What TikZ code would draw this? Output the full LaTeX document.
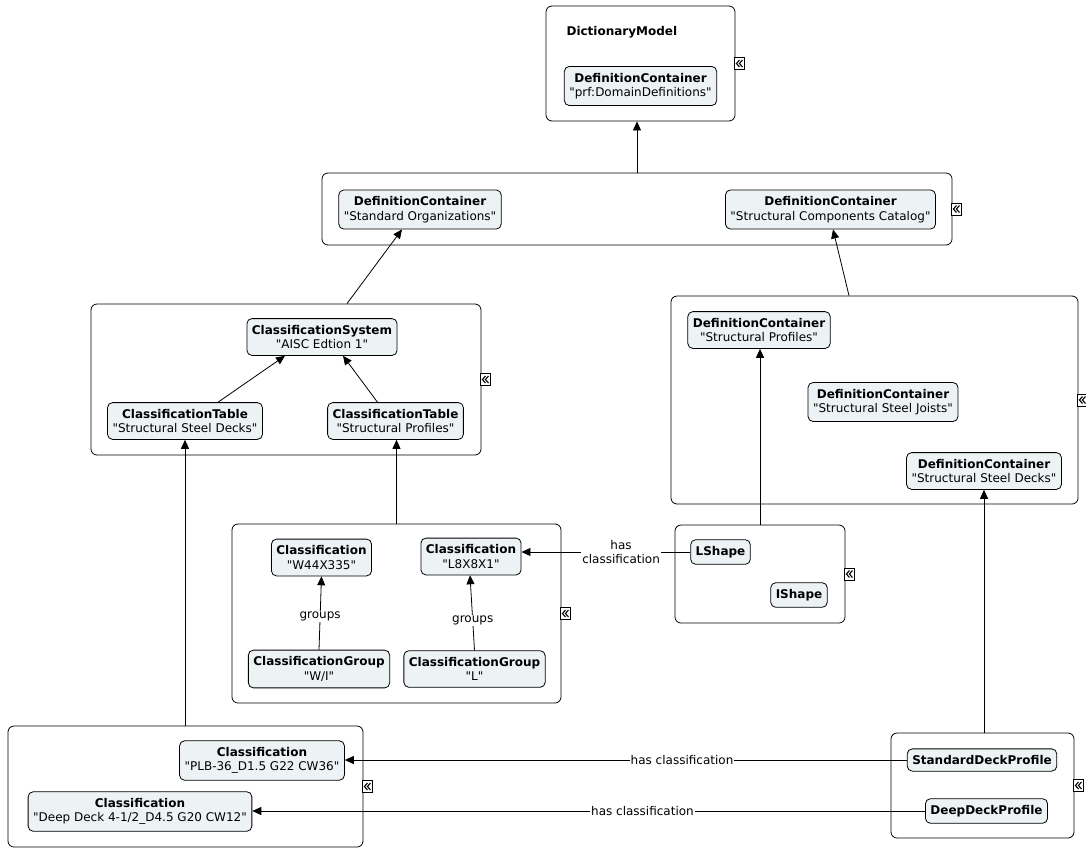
\documentclass[tikz,border=0pt]{standalone}
\usepackage{fontspec}
\setmainfont{DejaVu Sans}[Ligatures=TeXOff]
\usetikzlibrary{calc,arrows.meta}
\definecolor{boxfill}{RGB}{237,243,245}
\def\contnode{\node[cont]}
\def\itemnode{\node[item]}
\def\foldicon{\node[fold]}
\def\drawrel{\draw[rel]}
\def\q#1{"#1"}

\begin{document}
\begin{tikzpicture}[x=1pt,y=-1pt,font=\fontsize{12}{14.5}\selectfont,
  cont/.style={draw=black,rounded corners=6pt,line width=0.8pt,inner sep=0pt},
  item/.style={draw=black,fill=boxfill,rounded corners=5pt,line width=0.8pt,align=center,inner xsep=5pt,inner ysep=6.5pt},
  fold/.style={draw=black,fill=white,anchor=west,inner sep=0pt,minimum width=10pt,minimum height=12pt,line width=0.7pt,
    path picture={
      \draw[line width=1.1pt] ([shift={(-0.3pt,3.5pt)}]path picture bounding box.center) -- ++(-3pt,-3.5pt) -- ++(3pt,-3.5pt);
      \draw[line width=1.1pt] ([shift={(2.7pt,3.5pt)}]path picture bounding box.center) -- ++(-3pt,-3.5pt) -- ++(3pt,-3.5pt);
    }},
  rel/.style={-{Triangle[length=9pt,width=8pt]},line width=0.8pt},
  lbl/.style={fill=white,inner sep=1pt,align=center}]
\useasboundingbox (0,0) rectangle (1086,849);

% -------- containers ---------
\contnode[minimum width=189pt,minimum height=115pt] (dict) at (640.5,63.5) {};
\contnode[minimum width=630pt,minimum height=72pt] (defs) at (637,209) {};
\contnode[minimum width=390pt,minimum height=151pt] (aisc) at (286,379.5) {};
\contnode[minimum width=407pt,minimum height=208pt] (catalog) at (874.5,400) {};
\contnode[minimum width=329pt,minimum height=179pt] (classes) at (396.5,613.5) {};
\contnode[minimum width=170pt,minimum height=98pt] (shapes) at (760,574) {};
\contnode[minimum width=355pt,minimum height=121pt] (deckclasses) at (185.5,786.5) {};
\contnode[minimum width=183pt,minimum height=105pt] (decks) at (982.5,785.5) {};
\foreach \c in {dict,defs,aisc,catalog,classes,shapes,deckclasses,decks}
  \foldicon at ([xshift=-1pt]\c.east) {};
\node[anchor=west,font=\fontsize{12}{14.5}\selectfont\bfseries] (dictlabel) at (563,32) {DictionaryModel};

% -------- items ---------
\itemnode (domain) at (640.5,86) {\textbf{DefinitionContainer}\\\q{prf:DomainDefinitions}};
\itemnode (stdorg) at (420,209.5) {\textbf{DefinitionContainer}\\\q{Standard Organizations}};
\itemnode (compcat) at (830.5,209.5) {\textbf{DefinitionContainer}\\\q{Structural Components Catalog}};
\itemnode (system) at (322,337) {\textbf{ClassificationSystem}\\\q{AISC Edtion 1}};
\itemnode (tabdecks) at (185,421) {\textbf{ClassificationTable}\\\q{Structural Steel Decks}};
\itemnode (tabprof) at (395.5,421) {\textbf{ClassificationTable}\\\q{Structural Profiles}};
\itemnode (dcprof) at (759,330) {\textbf{DefinitionContainer}\\\q{Structural Profiles}};
\itemnode (dcjoists) at (883,402) {\textbf{DefinitionContainer}\\\q{Structural Steel Joists}};
\itemnode (dcdecks) at (984,471) {\textbf{DefinitionContainer}\\\q{Structural Steel Decks}};
\itemnode (classw) at (321.5,557.5) {\textbf{Classification}\\\q{W44X335}};
\itemnode (classl) at (471,556.5) {\textbf{Classification}\\\q{L8X8X1}};
\itemnode (groupw) at (319,669) {\textbf{ClassificationGroup}\\\q{W/I}};
\itemnode (groupl) at (474.5,669) {\textbf{ClassificationGroup}\\\q{L}};
\itemnode (lshape) at (720.5,552) {\textbf{LShape}};
\itemnode (ishape) at (799,595) {\textbf{IShape}};
\itemnode (classplb) at (262,760.5) {\textbf{Classification}\\\q{PLB-36\_D1.5 G22 CW36}};
\itemnode (classdeep) at (140,811.5) {\textbf{Classification}\\\q{Deep Deck 4-1/2\_D4.5 G20 CW12}};
\itemnode (stddeck) at (982,760) {\textbf{StandardDeckProfile}};
\itemnode (deepdeck) at (986.5,811) {\textbf{DeepDeckProfile}};

% -------- relations ---------
\drawrel (defs.north) -- (defs.north |- dict.south);
\drawrel ($(aisc.north)+(61,0)$) -- ($(stdorg.south)+(-18,0)$);
\drawrel ($(catalog.north)+(-25.5,0)$) -- ($(compcat.south)+(2.5,0)$);
\drawrel ($(tabdecks.north)+(33,0)$) -- ($(system.south)+(-37,0)$);
\drawrel ($(tabprof.north)+(-18,0)$) -- ($(system.south)+(21,0)$);
\drawrel (tabdecks.south |- deckclasses.north) -- (tabdecks.south);
\drawrel (classes.north) -- (classes.north |- tabprof.south);
\drawrel (shapes.north) -- (shapes.north |- dcprof.south);
\drawrel (dcdecks.south |- decks.north) -- (dcdecks.south);
\drawrel (groupw.north) -- node[lbl,pos=0.45] (grpw) {groups} (classw.south);
\drawrel (groupl.north) -- node[lbl,pos=0.4] (grpl) {groups} ($(classl.south)+(-1,0)$);
\drawrel (lshape.west) -- node[lbl,pos=0.41] (hasl) {has\\classification} (lshape.west -| classl.east);
\drawrel (stddeck.west) -- node[lbl,pos=0.4] (hasstd) {has classification} (stddeck.west -| classplb.east);
\drawrel (deepdeck.west) -- node[lbl,pos=0.42] (hasdeep) {has classification} (deepdeck.west -| classdeep.east);
\end{tikzpicture}
\end{document}
